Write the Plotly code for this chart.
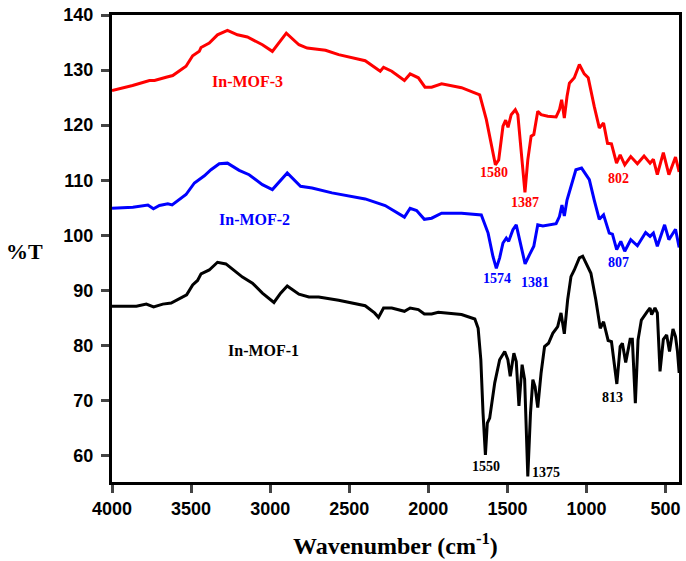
import plotly.graph_objects as go

# In-MOF-3 (red)
wn3 = [4000, 3870, 3763, 3731, 3658, 3616, 3532, 3490, 3448, 3437, 3385, 3333, 3270, 3207, 3144,
       3049, 2986, 2898, 2818, 2766, 2650, 2567, 2399, 2304, 2283, 2231, 2151, 2115, 2063, 2021,
       1979, 1916, 1790, 1675, 1633, 1602, 1576, 1555, 1528, 1511, 1496, 1476, 1450, 1434, 1413,
       1389, 1371, 1350, 1333, 1308, 1287, 1245, 1192, 1171, 1157, 1140, 1123, 1108, 1077, 1045,
       1014, 989, 951, 919, 892, 867, 842, 810, 787, 758, 720, 678, 636, 598, 577, 552, 514, 479,
       437, 414]
t3 = [126.3, 127.2, 128.1, 128.1, 128.7, 129.0, 130.7, 132.6, 133.4, 134.1, 134.9, 136.4, 137.2, 136.4, 136.0,
      134.6, 133.4, 136.7, 134.6, 134.0, 133.6, 132.8, 131.7, 129.8, 130.5, 129.8, 128.1, 129.3, 128.6, 126.9,
      126.9, 127.5, 126.8, 125.5, 121.0, 116.7, 112.8, 113.7, 119.8, 120.9, 119.6, 121.9, 122.8, 121.9, 115.5,
      107.8, 113.7, 118.0, 118.3, 122.5, 121.9, 121.6, 121.5, 122.8, 124.6, 121.3, 125.2, 127.6, 128.6, 131.0,
      129.3, 128.6, 123.4, 119.5, 120.4, 116.7, 116.6, 113.1, 114.6, 112.8, 114.3, 113.0, 114.4, 113.1, 113.8,
      111.0, 115.0, 111.0, 114.2, 111.5]

# In-MOF-2 (blue)
wn2 = [4000, 3868, 3773, 3738, 3700, 3647, 3620, 3532, 3479, 3448, 3416, 3374, 3322, 3270, 3196, 3133,
       3049, 2986, 2892, 2808, 2735, 2609, 2399, 2273, 2189, 2151, 2115, 2074, 2025, 1979, 1916, 1790,
       1665, 1622, 1591, 1570, 1549, 1528, 1507, 1492, 1465, 1444, 1423, 1388, 1360, 1333, 1308, 1276,
       1192, 1171, 1155, 1140, 1123, 1098, 1067, 1031, 982, 951, 919, 892, 856, 836, 809, 783, 758, 720,
       678, 626, 598, 577, 552, 506, 479, 437, 414]
t2 = [104.9, 105.1, 105.5, 104.8, 105.4, 105.7, 105.5, 107.4, 109.5, 110.1, 110.8, 111.9, 113.0, 113.1, 111.8, 111.0,
      109.2, 108.3, 111.3, 108.9, 108.6, 107.7, 106.6, 105.4, 104.0, 103.3, 104.9, 104.5, 102.9, 103.1, 104.0, 104.0,
      103.7, 100.4, 96.1, 94.0, 95.9, 98.6, 99.5, 98.9, 101.0, 101.9, 99.2, 94.8, 96.5, 98.0, 101.9, 101.7,
      102.1, 103.4, 105.5, 103.5, 106.4, 108.9, 111.9, 112.2, 110.1, 106.4, 102.9, 103.7, 100.4, 100.2, 97.4, 98.9, 97.1, 99.2,
      98.1, 100.5, 99.8, 100.4, 98.0, 101.9, 99.2, 101.1, 97.8]

# In-MOF-1 (black)
wn1 = [4000, 3846, 3783, 3737, 3679, 3626, 3528, 3490, 3459, 3437, 3385, 3333, 3280, 3217, 3175, 3112,
       3049, 2976, 2934, 2892, 2818, 2755, 2693, 2567, 2399, 2340, 2315, 2283, 2231, 2151, 2115, 2063,
       2025, 1979, 1937, 1790, 1706, 1685, 1668, 1654, 1639, 1627, 1612, 1580, 1549, 1517, 1497, 1482,
       1459, 1444, 1427, 1407, 1391, 1371, 1354, 1339, 1325, 1308, 1287, 1265, 1240, 1213, 1182, 1161,
       1140, 1119, 1098, 1077, 1045, 1024, 993, 972, 941, 913, 892, 863, 842, 808, 787, 773, 752, 724,
       710, 691, 674, 653, 615, 598, 588, 567, 552, 535, 514, 493, 475, 453, 437, 425, 414]
t1 = [87.1, 87.1, 87.5, 87.0, 87.5, 87.7, 89.2, 91.0, 91.8, 93.0, 93.7, 95.1, 94.8, 93.4, 92.4, 91.3,
      89.5, 87.8, 89.5, 90.8, 89.3, 88.8, 88.8, 88.2, 87.2, 85.9, 85.1, 86.8, 86.8, 86.2, 86.8, 86.5,
      85.7, 85.7, 86.0, 85.6, 84.8, 83.1, 77.4, 67.7, 60.1, 65.9, 66.8, 73.2, 77.4, 78.9, 77.4, 74.4,
      78.6, 77.1, 69.0, 76.5, 73.8, 56.2, 67.7, 73.8, 72.5, 68.7, 75.0, 79.8, 80.4, 82.2, 83.4, 85.9,
      82.1, 88.3, 92.5, 93.7, 95.9, 96.2, 94.3, 93.1, 88.3, 83.1, 84.3, 80.9, 80.7, 73.0, 79.8, 80.4, 76.9, 81.1,
      81.1, 69.5, 81.0, 84.6, 86.2, 86.8, 85.6, 86.8, 85.9, 75.3, 81.1, 81.9, 78.9, 83.0, 81.6, 79.0, 75.0]

series_names = ["In-MOF-3", "In-MOF-2", "In-MOF-1"]
series_colors = ["#ff0000", "#0000ff", "#000000"]

# sample labels: (text, wavenumber, %T)
sample_labels = [("In-MOF-3", 3146, 127.9), ("In-MOF-2", 3098, 102.8), ("In-MOF-1", 3039, 79.1)]
# peak labels: (text, wavenumber, %T, color index)
peak_labels = [("1580", 1586, 111.35, 0), ("1387", 1391, 106.0, 0), ("802", 800, 110.4, 0),
               ("1574", 1566, 92.1, 1), ("1381", 1327, 91.4, 1), ("807", 800, 95.1, 1),
               ("1550", 1635, 58.0, 2), ("1375", 1257, 56.9, 2), ("813", 836, 70.5, 2)]

x_ticks = [4000, 3500, 3000, 2500, 2000, 1500, 1000, 500]
y_ticks = [60, 70, 80, 90, 100, 110, 120, 130, 140]

fig = go.Figure()
for xs, ys, name, col in zip([wn3, wn2, wn1], [t3, t2, t1], series_names, series_colors):
    fig.add_trace(go.Scatter(x=xs, y=ys, mode="lines", name=name,
                             line=dict(color=col, width=3), showlegend=False))

serif = "Liberation Serif, Times New Roman, serif"
for (txt, x, y), col in zip(sample_labels, series_colors):
    fig.add_annotation(x=x, y=y, text=f"<b>{txt}</b>", showarrow=False,
                       font=dict(family=serif, size=16, color=col))
for txt, x, y, ci in peak_labels:
    fig.add_annotation(x=x, y=y, text=f"<b>{txt}</b>", showarrow=False,
                       font=dict(family=serif, size=14, color=series_colors[ci]))

fig.add_annotation(xref="paper", yref="paper", x=-0.19, xanchor="left", y=0.493, text="<b>%T</b>",
                   showarrow=False, font=dict(family=serif, size=22, color="black"))
fig.add_annotation(xref="paper", yref="paper", x=0.5, y=-0.133, yanchor="middle",
                   text="<b>Wavenumber (cm<sup>-1</sup>)</b>",
                   showarrow=False, font=dict(family=serif, size=24, color="black"))

axis_font = dict(family="Liberation Sans, Arial, sans-serif", size=18, color="black", weight="bold")
fig.update_xaxes(range=[4000, 415], tickvals=x_ticks, ticks="outside", ticklen=8, tickwidth=2.5,
                 showline=True, linecolor="black", linewidth=3, mirror=True, showgrid=False,
                 zeroline=False, tickfont=axis_font, ticklabelstandoff=0)
fig.update_yaxes(range=[55.2, 140], tickvals=y_ticks, ticks="outside", ticklen=8, tickwidth=2.5,
                 showline=True, linecolor="black", linewidth=3, mirror=True, showgrid=False,
                 zeroline=False, tickfont=axis_font, ticklabelstandoff=4)
fig.update_layout(width=686, height=561, margin=dict(l=112, r=4, t=15, b=79),
                  plot_bgcolor="white", paper_bgcolor="white")
fig.write_html("out.html")
